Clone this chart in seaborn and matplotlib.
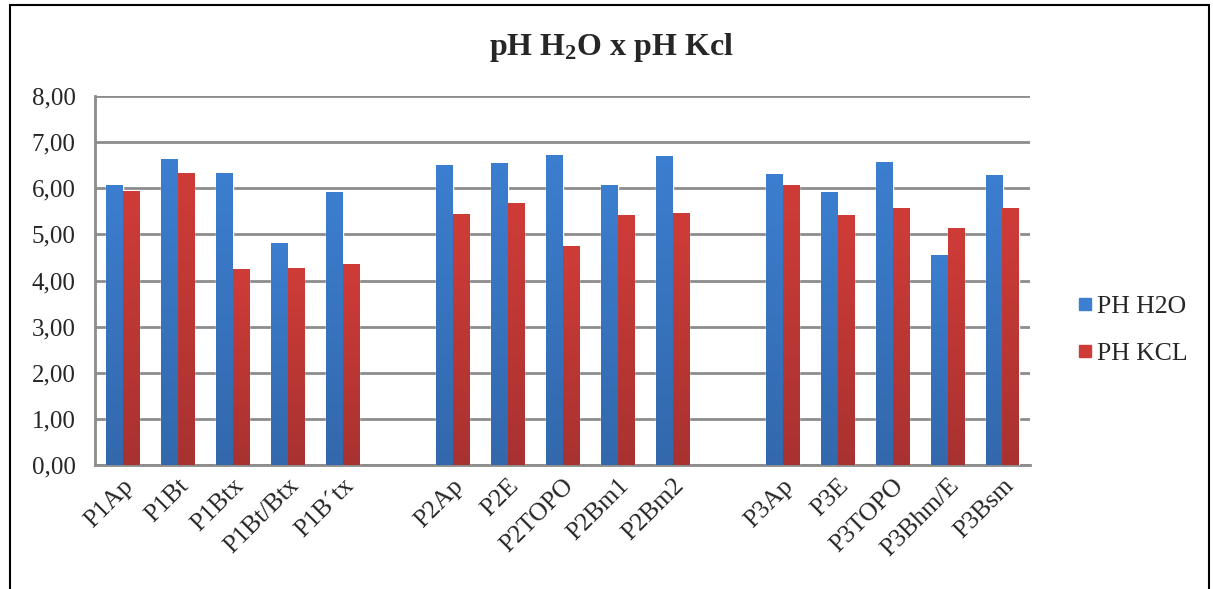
import numpy as np
import pandas as pd
import matplotlib
matplotlib.use("Agg")
import matplotlib.pyplot as plt
import seaborn as sns
from matplotlib.colors import LinearSegmentedColormap
from matplotlib.patches import Rectangle
from matplotlib.lines import Line2D

categories = ["P1Ap", "P1Bt", "P1Btx", "P1Bt/Btx", "P1B´tx", " ",
              "P2Ap", "P2E", "P2TOPO", "P2Bm1", "P2Bm2", "  ",
              "P3Ap", "P3E", "P3TOPO", "P3Bhm/E", "P3Bsm"]
samples = ["P1Ap", "P1Bt", "P1Btx", "P1Bt/Btx", "P1B´tx",
           "P2Ap", "P2E", "P2TOPO", "P2Bm1", "P2Bm2",
           "P3Ap", "P3E", "P3TOPO", "P3Bhm/E", "P3Bsm"]
ph_h2o = [6.06, 6.63, 6.32, 4.82, 5.91,
          6.50, 6.54, 6.73, 6.08, 6.69,
          6.30, 5.91, 6.56, 4.56, 6.28]
ph_kcl = [5.95, 6.32, 4.26, 4.28, 4.35,
          5.45, 5.67, 4.74, 5.43, 5.47,
          6.06, 5.41, 5.58, 5.13, 5.57]
series = ["PH H2O", "PH KCL"]
yticks = [0, 1, 2, 3, 4, 5, 6, 7, 8]

df = pd.DataFrame({
    "cat": samples * 2,
    "val": ph_h2o + ph_kcl,
    "serie": [series[0]] * len(samples) + [series[1]] * len(samples),
})

sns.set_style("white")
plt.rcParams["font.family"] = ["Liberation Serif", "DejaVu Serif"]
plt.rcParams["mathtext.fontset"] = "custom"
plt.rcParams["mathtext.rm"] = "Liberation Serif:bold"
plt.rcParams["mathtext.it"] = "Liberation Serif:bold"
plt.rcParams["mathtext.bf"] = "Liberation Serif:bold"

fig = plt.figure(figsize=(12.13, 5.89), dpi=100)
ax = fig.add_axes([95 / 1213, 1 - 465 / 589, (1030 - 95) / 1213, (465 - 96) / 589])

top_colors = {"PH H2O": "#3C7ECF", "PH KCL": "#CF3C38"}
bot_colors = {"PH H2O": "#3368AC", "PH KCL": "#A83230"}

sns.barplot(data=df, x="cat", y="val", hue="serie", order=categories,
            hue_order=series, palette=top_colors, width=0.6, saturation=1,
            ax=ax, legend=False, zorder=3)

# gradient fill clipped to each bar (first half of patches = first series)
n = len(ax.patches) // 2
for i, p in enumerate(ax.patches):
    s = series[0] if i < n else series[1]
    h = p.get_height()
    if not np.isfinite(h) or h <= 0:
        continue
    x0 = p.get_x(); w = p.get_width()
    cmap = LinearSegmentedColormap.from_list("g", [bot_colors[s], top_colors[s]])
    grad = np.linspace(0, 1, 256).reshape(-1, 1)
    im = ax.imshow(grad, cmap=cmap, aspect="auto", origin="lower",
                   extent=[x0, x0 + w, 0, h], zorder=3.5)
    im.set_clip_path(p)

ax.set_xlim(-0.5, len(categories) - 0.5)
ax.set_ylim(0, 8)
ax.set_yticks(yticks)
ax.set_yticklabels([f"{v:.2f}".replace(".", ",") for v in yticks], fontsize=18)
ax.tick_params(axis="y", length=0, pad=14)
ax.tick_params(axis="x", length=0, pad=7)
ax.set_xticks(range(len(categories)))
ax.set_xticklabels(categories, rotation=45, ha="right", rotation_mode="anchor",
                   fontsize=18.5)
ax.set_xlabel("")
ax.set_ylabel("")
ax.yaxis.grid(True, color="#8C8C8C", linewidth=2, zorder=0)
ax.set_axisbelow(True)
for side in ["top", "right"]:
    ax.spines[side].set_visible(False)
for side in ["left", "bottom"]:
    ax.spines[side].set_color("#8C8C8C")
    ax.spines[side].set_linewidth(2)

fig.text(611 / 1213, 1 - 48 / 589, "pH H$_2$O x pH Kcl", fontsize=23,
         fontweight="bold", ha="center", va="center")

handles = [Line2D([], [], marker="s", linestyle="", markersize=8,
                  markerfacecolor=top_colors[s], markeredgecolor=top_colors[s])
           for s in series]
fig.legend(handles, series, loc="center left",
           bbox_to_anchor=(1052 / 1213, 1 - 330 / 589),
           frameon=False, fontsize=18.5, handletextpad=0.05, labelspacing=0.95,
           handlelength=0.8)

fig.patches.append(Rectangle((10 / 1213, -0.05), 1199 / 1213, (589 - 5) / 589 + 0.05,
                             transform=fig.transFigure, fill=False,
                             edgecolor="black", linewidth=1.5))

fig.savefig("out.png", dpi=100)
